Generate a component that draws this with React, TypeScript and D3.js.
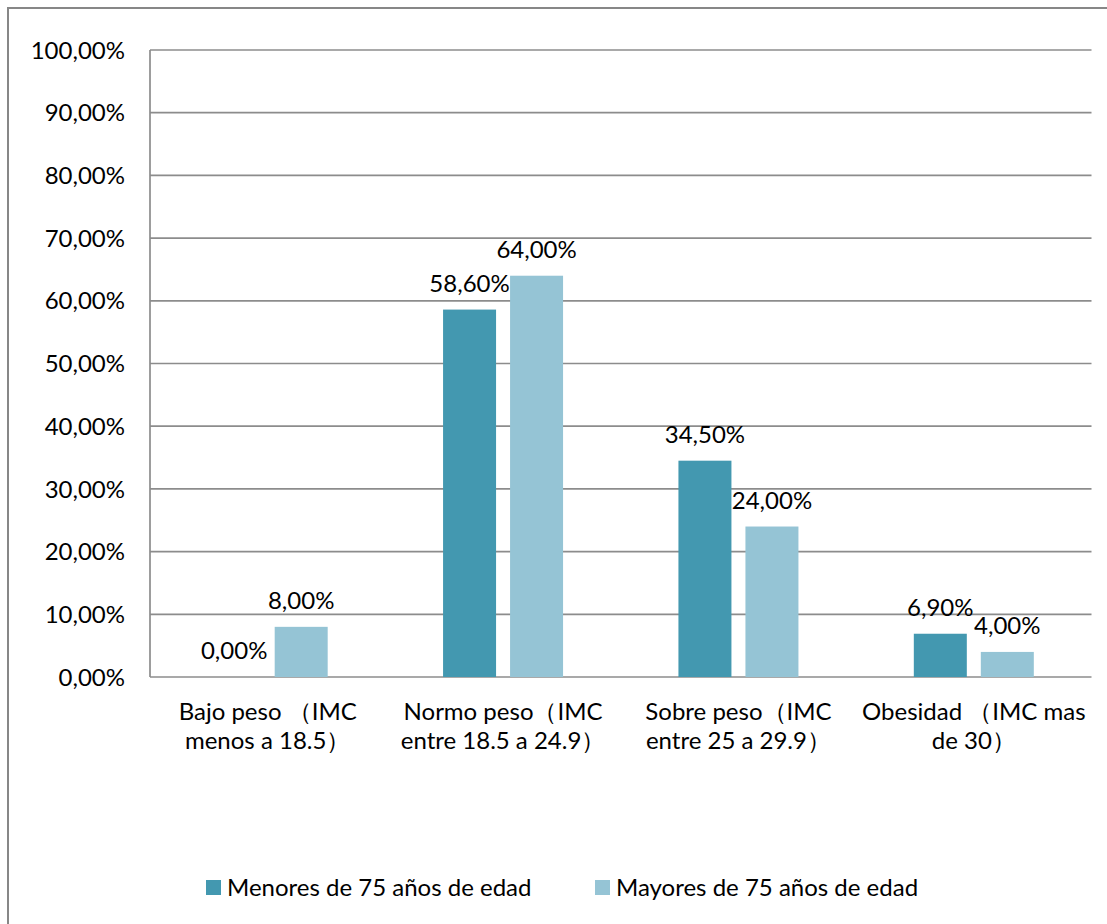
import React from "react";
import * as d3 from "d3";

const categories = ["Bajo", "Normo", "Sobre", "Obesidad"];
const categoryLines: string[][] = [
  ["Bajo peso （IMC", "menos a 18.5）"],
  ["Normo peso（IMC", "entre 18.5 a 24.9）"],
  ["Sobre peso（IMC", "entre 25 a 29.9）"],
  ["Obesidad （IMC mas", "de 30）"],
];
const seriesNames = ["Menores de 75 años de edad", "Mayores de 75 años de edad"];
const seriesColors = ["#4398B0", "#95C4D5"];
const menores = [0.0, 0.586, 0.345, 0.069];
const mayores = [0.08, 0.64, 0.24, 0.04];
const yTicks = [0, 0.1, 0.2, 0.3, 0.4, 0.5, 0.6, 0.7, 0.8, 0.9, 1.0];

const W = 1107;
const H = 924;
const FONT = "Lato, 'Noto Sans', sans-serif";
const FS = 24;

const fmt = (v: number) => (v * 100).toFixed(2).replace(".", ",") + "%";

export default function App() {
  const x = d3.scaleBand<string>().domain(categories).range([150, 1091.5]).padding(0);
  const xs = d3
    .scaleBand<string>()
    .domain(seriesNames)
    .range([0, x.bandwidth()])
    .paddingInner(0.209)
    .paddingOuter(0.861);
  const y = d3.scaleLinear().domain([0, 1]).range([677, 50]);
  const series = [menores, mayores];
  const gridColor = "#8C8C8C";

  return (
    <svg
      width={W}
      height={H}
      style={{ position: "absolute", left: 0, top: 0, background: "#fff" }}
      fontFamily={FONT}
    >
      <rect x={8} y={8} width={W + 20} height={H + 20} fill="#fff" stroke="#878787" strokeWidth={2} />
      {yTicks.map((t) => (
        <g key={t}>
          <line x1={150} x2={1091.5} y1={y(t)} y2={y(t)} stroke={gridColor} strokeWidth={1.7} />
          <text x={125} y={y(t)} dy="0.36em" textAnchor="end" fontSize={FS} fill="#000">
            {fmt(t)}
          </text>
        </g>
      ))}
      <line x1={150} x2={150} y1={y(1)} y2={y(0)} stroke={gridColor} strokeWidth={1.7} />
      {categories.map((c, ci) => (
        <g key={c}>
          {series.map((vals, si) => {
            const bx = (x(c) as number) + (xs(seriesNames[si]) as number);
            const v = vals[ci];
            return (
              <g key={si}>
                {v > 0 && (
                  <rect
                    x={bx}
                    y={y(v)}
                    width={xs.bandwidth()}
                    height={y(0) - y(v)}
                    fill={seriesColors[si]}
                  />
                )}
                <text
                  x={bx + xs.bandwidth() / 2}
                  y={y(v) - 18}
                  textAnchor="middle"
                  fontSize={FS}
                  fill="#000"
                >
                  {fmt(v)}
                </text>
              </g>
            );
          })}
          {categoryLines[ci].map((ln, li) => (
            <text
              key={li}
              x={(x(c) as number) + x.bandwidth() / 2}
              y={720 + li * 29}
              textAnchor="middle"
              fontSize={FS}
              fill="#000"
            >
              {ln}
            </text>
          ))}
        </g>
      ))}
      {seriesNames.map((s, si) => {
        const lx = si === 0 ? 206 : 595;
        return (
          <g key={s}>
            <rect x={lx} y={880} width={15} height={15} fill={seriesColors[si]} />
            <text x={lx + 21} y={887.5} dy="0.36em" fontSize={FS} fill="#000">
              {s}
            </text>
          </g>
        );
      })}
    </svg>
  );
}
